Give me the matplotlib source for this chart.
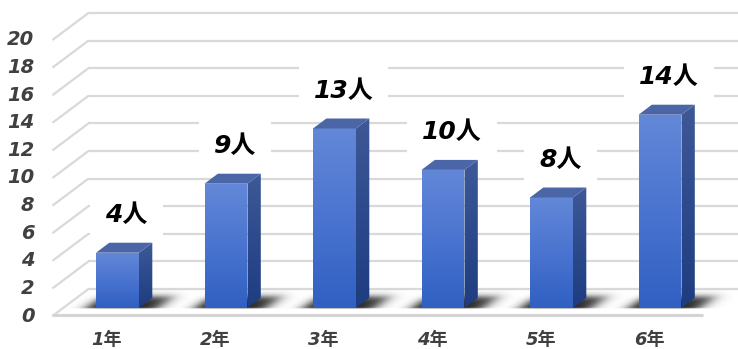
import numpy as np
import matplotlib
matplotlib.use("Agg")
import matplotlib.pyplot as plt
from matplotlib.patches import Polygon
from matplotlib.colors import LinearSegmentedColormap

# ---- data ----
categories = ["1年", "2年", "3年", "4年", "5年", "6年"]
values = [4, 9, 13, 10, 8, 14]
value_labels = ["4人", "9人", "13人", "10人", "8人", "14人"]
y_ticks = [0, 2, 4, 6, 8, 10, 12, 14, 16, 18, 20]

# ---- layout (pixel calibration) ----
W, H = 738, 349
PX_X = 108.5      # px per category
PX_Y = 13.8       # px per value unit
X0_PX = 106.7     # category 0 at front plane
Y0_PX = 316.0     # value 0 at front plane (from top)
DX = 36.0 / PX_X  # depth offset, x
DY = 27.0 / PX_Y  # depth offset, y (up)
ZF, ZB = 0.30, 0.67
HW = 0.198

fig = plt.figure(figsize=(W / 100, H / 100), dpi=100)
ax = fig.add_axes([0, 0, 1, 1])
xlim = (-X0_PX / PX_X, (W - X0_PX) / PX_X)
ylim = ((Y0_PX - H) / PX_Y, Y0_PX / PX_Y)
ax.set_xlim(*xlim)
ax.set_ylim(*ylim)
ax.axis("off")


def proj(x, v, z):
    return (x + z * DX, v + z * DY)


grid_c = "#d9d9d9"
xl, xr = -0.5, len(categories) - 0.5
xmax = xlim[1]

# gridlines: back wall + left wall
for v in y_ticks:
    p0 = proj(xl, v, 0)
    p1 = proj(xl, v, 1)
    ax.plot([p0[0], p1[0]], [p0[1], p1[1]], color=grid_c, lw=1.6, zorder=1,
            solid_capstyle="butt")
    ax.plot([p1[0], xmax], [p1[1], p1[1]], color=grid_c, lw=1.6, zorder=1,
            solid_capstyle="butt")

# floor front edge
f0 = proj(xl, 0, 0)
f1 = proj(xr, 0, 0)
ax.plot([f0[0], f1[0]], [f0[1] + 0.1, f1[1] + 0.1], color="#d4d4d4", lw=2.2,
        zorder=1, solid_capstyle="butt")

# y tick labels
for v in y_ticks:
    px, py = proj(xl, v, 0)
    ax.text(px - 18 / PX_X, py, str(v), ha="right", va="center",
            fontsize=14, fontweight="bold", style="italic", color="#404040",
            family=["DejaVu Sans"], zorder=6)

# category labels
for i, c in enumerate(categories):
    px, py = proj(i, 0, 0)
    ax.text(px, py - 24 / PX_Y, c, ha="center", va="center",
            fontsize=13, fontweight="bold", color="#404040",
            family=["DejaVu Sans", "Noto Sans CJK JP"], style="italic", zorder=6)


# ---- soft floor shadows (image on the floor plane) ----
def band(t, a, b, sa, sb):
    return (1 / (1 + np.exp(-(t - a) / sa))) * (1 / (1 + np.exp((t - b) / sb)))


sy0, sy1 = -0.5, DY * 1.0
nx, ny = 1400, 120
gx = np.linspace(xlim[0], xlim[1], nx)
gy = np.linspace(sy0, sy1, ny)
GX, GY = np.meshgrid(gx, gy)
Z = GY / DY
U = GX - Z * DX
alpha = np.zeros_like(GX)
for i, v in enumerate(values):
    a = band(U, i - HW - 0.09, i + HW + 0.17, 0.04, 0.045) * \
        band(Z, ZF - 0.01, ZF + 0.42, 0.008, 0.07)
    alpha = np.maximum(alpha, a)
rgba = np.zeros((ny, nx, 4))
rgba[..., 3] = alpha * 0.85
ax.imshow(rgba, origin="lower", extent=(xlim[0], xlim[1], sy0, sy1),
          aspect="auto", zorder=2, interpolation="bilinear")

front_cmap = LinearSegmentedColormap.from_list("f", ["#3060c2", "#4a74d0", "#6388d8"])
side_cmap = LinearSegmentedColormap.from_list("s", ["#1e3d80", "#2c4a8c", "#3f5997"])
grad = np.linspace(0, 1, 256).reshape(-1, 1)

for i, v in enumerate(values):
    # front face
    front = [proj(i - HW, 0, ZF), proj(i + HW, 0, ZF),
             proj(i + HW, v, ZF), proj(i - HW, v, ZF)]
    pf = Polygon(front, closed=True, facecolor="none", edgecolor="none", zorder=3)
    ax.add_patch(pf)
    im = ax.imshow(grad, cmap=front_cmap, origin="lower", aspect="auto",
                   extent=(front[0][0], front[1][0], front[0][1], front[2][1]),
                   zorder=3, interpolation="bilinear")
    im.set_clip_path(pf)

    # side face
    side = [proj(i + HW, 0, ZF), proj(i + HW, 0, ZB),
            proj(i + HW, v, ZB), proj(i + HW, v, ZF)]
    ps = Polygon(side, closed=True, facecolor="none", edgecolor="none", zorder=3)
    ax.add_patch(ps)
    xs = [p[0] for p in side]
    ys = [p[1] for p in side]
    im2 = ax.imshow(grad, cmap=side_cmap, origin="lower", aspect="auto",
                    extent=(min(xs), max(xs), min(ys), max(ys)),
                    zorder=3, interpolation="bilinear")
    im2.set_clip_path(ps)

    # top face
    top = [proj(i - HW, v, ZF), proj(i + HW, v, ZF),
           proj(i + HW, v, ZB), proj(i - HW, v, ZB)]
    ax.add_patch(Polygon(top, closed=True, facecolor="#4a66a6", edgecolor="none",
                         zorder=3.1))

    # value label
    lx, ly = proj(i, v, ZF)
    ax.text(lx + 9 / PX_X, ly + 38 / PX_Y, value_labels[i], ha="center", va="center",
            fontsize=18, fontweight="bold", style="italic", color="black",
            family=["DejaVu Sans", "Noto Sans CJK JP"], zorder=7,
            bbox=dict(boxstyle="square,pad=0.6", facecolor="white", edgecolor="none"))

fig.savefig("out.png", dpi=100)
